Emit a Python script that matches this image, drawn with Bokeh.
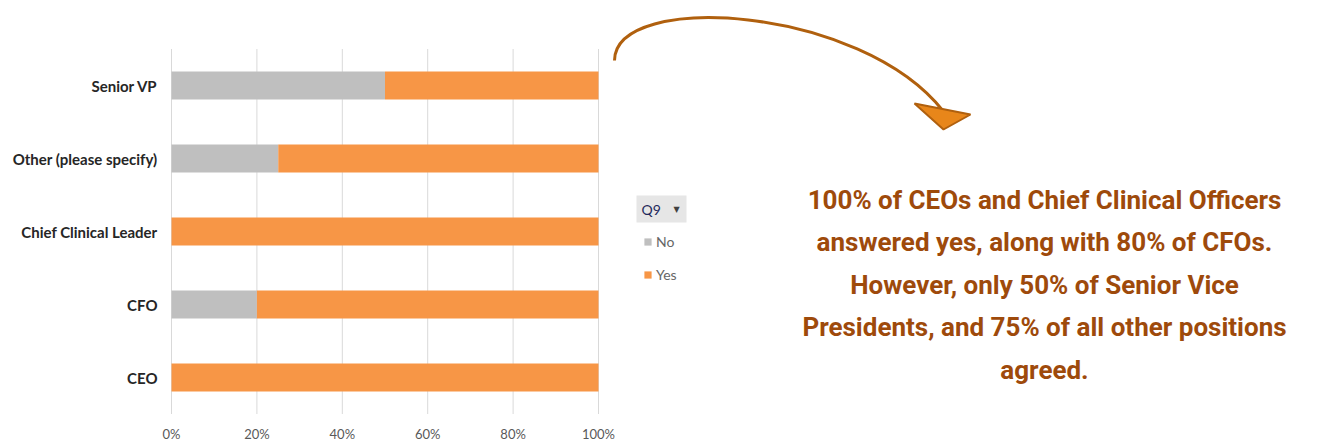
from bokeh.plotting import figure
from bokeh.models import Range1d, Legend, LegendItem, ColumnDataSource
from bokeh.core.properties import value
from bokeh.embed import file_html
from bokeh.resources import INLINE

# ---- data ----
categories = ["CEO", "CFO", "Chief Clinical Leader", "Other (please specify)", "Senior VP"]
no_share = [0.0, 0.20, 0.0, 0.25, 0.50]
yes_share = [1.0, 0.80, 1.0, 0.75, 0.50]
tick_values = [0.0, 0.2, 0.4, 0.6, 0.8, 1.0]
tick_labels = ["0%", "20%", "40%", "60%", "80%", "100%"]
legend_title = "Q9"
series_names = ["No", "Yes"]
note_lines = [
    "100% of CEOs and Chief Clinical Officers",
    "answered yes, along with 80% of CFOs.",
    "However, only 50% of Senior Vice",
    "Presidents, and 75% of all other positions",
    "agreed.",
]

GREY = "#BFBFBF"
ORANGE = "#F79646"
BROWN = "#9E4A0B"

W, H = 1318, 442
X0, X1 = 171, 598          # pixel positions of 0% and 100%
Y_CEO, ROW = 377, 73       # pixel row of first category, row pitch

def px(x):
    return (x - X0) / (X1 - X0)

def py(y):
    return (Y_CEO - y) / ROW

p = figure(width=W, height=H, output_backend="svg", toolbar_location=None,
           x_range=Range1d(px(0), px(W)), y_range=Range1d(py(H), py(0)),
           x_axis_type=None, y_axis_type=None, min_border=0)
p.outline_line_color = None
p.grid.visible = False
p.background_fill_color = "white"

n = len(categories)
idx = list(range(n))

# gridlines
p.segment(x0=tick_values, x1=tick_values, y0=[-0.5] * len(tick_values),
          y1=[n - 0.5] * len(tick_values), line_color="#D9D9D9", line_width=1)

src = ColumnDataSource(dict(y=idx, no=no_share, yes=yes_share, cat=categories))
r_stack = p.hbar_stack(["no", "yes"], y="y", height=0.385, color=[GREY, ORANGE],
                       line_color=None, source=src)

# category labels
p.text(x=[px(157)] * n, y=idx, text=categories, text_align="right",
       text_baseline="middle", text_font=value("Lato"), text_font_style="bold",
       text_font_size="15px", text_color="#262626")

# tick labels
p.text(x=tick_values, y=[py(433)] * len(tick_values), text=tick_labels,
       text_align="center", text_baseline="middle", text_font=value("Lato"),
       text_font_size="13px", text_color="#595959")

# legend header button
p.rect(x=[px(661)], y=[py(208.5)], width=50, height=27, width_units="screen",
       height_units="screen", fill_color="#E6E6E6", line_color=None)
p.text(x=[px(641)], y=[py(209)], text=[legend_title], text_baseline="middle",
       text_font=value("Lato"), text_font_size="14px", text_color="#1F2A5C")
p.text(x=[px(676)], y=[py(209)], text=["\u25BC"], text_align="center",
       text_baseline="middle", text_font=value("DejaVu Sans"), text_font_size="8px",
       text_color="#404040")

legend = Legend(items=[LegendItem(label=series_names[0], renderers=[r_stack[0]]),
                       LegendItem(label=series_names[1], renderers=[r_stack[1]])],
                location=(643, H - 284), orientation="vertical",
                glyph_width=9, glyph_height=9, label_height=20, spacing=13,
                padding=0, margin=0, label_standoff=4,
                label_text_font="Lato", label_text_font_size="14px",
                label_text_color="#666666", border_line_color=None,
                background_fill_alpha=0)
p.add_layout(legend)

# curved arrow
p.bezier(x0=[px(614)], y0=[py(60)], x1=[px(943)], y1=[py(111)],
         cx0=[px(615)], cy0=[py(-10)], cx1=[px(860)], cy1=[py(5)],
         line_color="#B0600E", line_width=3)
p.patch(x=[px(914), px(970), px(943)], y=[py(103), py(114), py(129)],
        fill_color="#E8861A", line_color="#B0600E", line_width=2)

# annotation text
p.text(x=[px(1044)] * len(note_lines), y=[py(199 + 42.5 * i) for i in range(len(note_lines))],
       text=note_lines, text_align="center", text_baseline="middle",
       text_font=value("Roboto"), text_font_style="bold",
       text_font_size="26px", text_color=BROWN)

open("out.html", "w").write(file_html(p, INLINE))
